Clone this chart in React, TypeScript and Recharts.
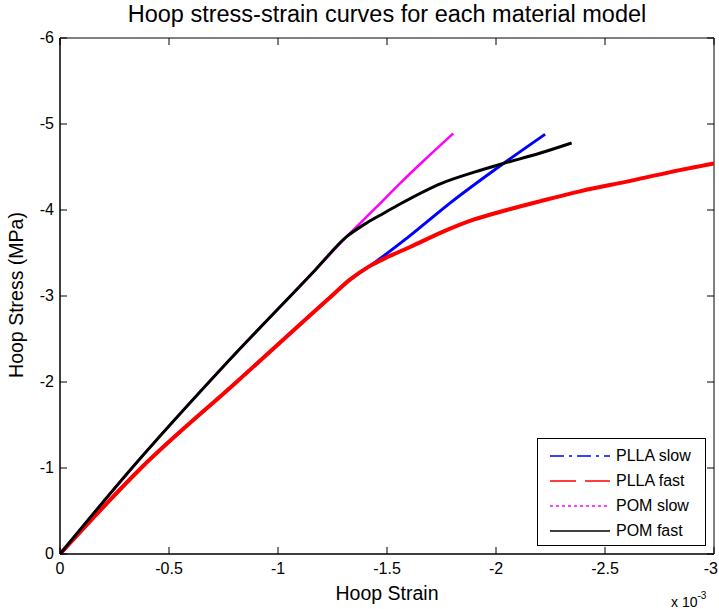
import React from "react";
import { LineChart, Line, XAxis, YAxis, ReferenceArea } from "recharts";

// strain values are in units of 1e-3, stress in MPa
const pllaSlowStrain = [0, -0.372, -0.81, -1.25, -1.33, -1.422, -1.6, -1.789, -2.034, -2.225];
const pllaSlowStress = [0, -1, -2, -3.01, -3.19, -3.35, -3.69, -4.08, -4.54, -4.88];

const pllaFastStrain = [0, -0.372, -0.81, -1.25, -1.33, -1.422, -1.5, -1.606, -1.75, -1.9, -2.05, -2.2, -2.39, -2.6, -2.8, -3.0];
const pllaFastStress = [0, -1, -2, -3.01, -3.19, -3.35, -3.45, -3.57, -3.74, -3.89, -4.0, -4.1, -4.22, -4.33, -4.44, -4.54];

const pomSlowStrain = [0, -0.33, -0.742, -1.17, -1.315, -1.45, -1.56, -1.667, -1.804];
const pomSlowStress = [0, -1, -2.16, -3.3, -3.69, -4.03, -4.31, -4.57, -4.89];

const pomFastStrain = [0, -0.33, -0.742, -1.17, -1.315, -1.407, -1.483, -1.56, -1.75, -1.9, -2.032, -2.2, -2.347];
const pomFastStress = [0, -1, -2.16, -3.3, -3.69, -3.85, -3.96, -4.07, -4.31, -4.44, -4.54, -4.66, -4.78];

const xTicks = [-3, -2.5, -2, -1.5, -1, -0.5, 0];
const yTicks = [-6, -5, -4, -3, -2, -1, 0];

const toPoints = (xs: number[], ys: number[]) => xs.map((x, i) => ({ x, y: ys[i] }));

const series = [
  { name: "PLLA slow", color: "#0000ff", width: 3, dash: "14,5,3,5", data: toPoints(pllaSlowStrain, pllaSlowStress) },
  { name: "PLLA fast", color: "#ff0000", width: 4, dash: "26,9", data: toPoints(pllaFastStrain, pllaFastStress) },
  { name: "POM slow", color: "#ff00ff", width: 2.5, dash: "3,3", data: toPoints(pomSlowStrain, pomSlowStress) },
  { name: "POM fast", color: "#000000", width: 3, dash: undefined, data: toPoints(pomFastStrain, pomFastStress) },
];

const W = 719;
const H = 609;
const margin = { top: 38, right: 5, bottom: 0, left: 0 };
const yAxisW = 60;
const xAxisH = 55;
const plotW = W - margin.left - margin.right - yAxisW;
const plotH = H - margin.top - margin.bottom - xAxisH;
const TICK = 7;

const font = "'Liberation Sans', Arial, sans-serif";

// MATLAB style: ticks point inward, mirrored on the opposite side
const XTick = (props: any) => {
  const { x, y, payload } = props;
  const last = payload.value === xTicks[0];
  return (
    <g>
      <line x1={x} x2={x} y1={y} y2={y - TICK} stroke="#000" />
      <line x1={x} x2={x} y1={y - plotH} y2={y - plotH + TICK} stroke="#000" />
      <text
        x={last ? x + 4 : x}
        y={y + 20}
        textAnchor={last ? "end" : "middle"}
        fontSize={16}
        fontFamily={font}
        fill="#000"
      >
        {payload.value}
      </text>
    </g>
  );
};

const YTick = (props: any) => {
  const { x, y, payload } = props;
  return (
    <g>
      <line x1={x} x2={x + TICK} y1={y} y2={y} stroke="#000" />
      <line x1={x + plotW} x2={x + plotW - TICK} y1={y} y2={y} stroke="#000" />
      <text x={x - 6} y={y + 5} textAnchor="end" fontSize={16} fontFamily={font} fill="#000">
        {payload.value}
      </text>
    </g>
  );
};

export default function App() {
  return (
    <div style={{ position: "absolute", left: 0, top: 0, width: W, height: H, background: "#fff", fontFamily: font }}>
      <LineChart width={W} height={H} margin={margin}>
        <XAxis
          type="number"
          dataKey="x"
          domain={[-3, 0]}
          ticks={xTicks}
          interval={0}
          reversed
          allowDataOverflow
          height={xAxisH}
          tickSize={0}
          tickMargin={0}
          tickLine={false}
          stroke="#000"
          tick={<XTick />}
        />
        <YAxis
          type="number"
          dataKey="y"
          domain={[-6, 0]}
          ticks={yTicks}
          interval={0}
          reversed
          allowDataOverflow
          width={yAxisW}
          tickSize={0}
          tickMargin={0}
          tickLine={false}
          stroke="#000"
          tick={<YTick />}
        />
        <ReferenceArea x1={-3} x2={0} y1={-6} y2={0} fill="none" stroke="#000" strokeWidth={1} />
        {series.map((s) => (
          <Line
            key={s.name}
            data={s.data}
            dataKey="y"
            name={s.name}
            type="monotone"
            stroke={s.color}
            strokeWidth={s.width}
            dot={false}
            activeDot={false}
            isAnimationActive={false}
          />
        ))}
      </LineChart>

      <div style={{ position: "absolute", left: 60, width: 654, top: 1, textAlign: "center", fontSize: 23.5 }}>
        Hoop stress-strain curves for each material model
      </div>
      <div style={{ position: "absolute", left: 60, width: 654, top: 582, textAlign: "center", fontSize: 19.5 }}>
        Hoop Strain
      </div>
      <div
        style={{
          position: "absolute",
          left: 16,
          top: 295,
          transform: "translate(-50%, -50%) rotate(-90deg)",
          whiteSpace: "nowrap",
          fontSize: 19.5,
        }}
      >
        Hoop Stress (MPa)
      </div>
      <div style={{ position: "absolute", left: 671, top: 592, fontSize: 14, whiteSpace: "nowrap" }}>
        x 10<sup style={{ fontSize: 10, position: "relative", top: -2 }}>-3</sup>
      </div>

      <div
        style={{
          position: "absolute",
          left: 537,
          top: 438,
          width: 167,
          height: 106,
          border: "1px solid #000",
          background: "#fff",
        }}
      >
        {series.map((s, i) => (
          <div key={s.name} style={{ position: "absolute", left: 0, top: 6 + i * 25, height: 22, display: "flex", alignItems: "center" }}>
            <svg width={78} height={22}>
              <line x1={12} x2={72} y1={11} y2={11} stroke={s.color} strokeWidth={1.5} strokeDasharray={s.dash} />
            </svg>
            <span style={{ fontSize: 16, whiteSpace: "nowrap" }}>{s.name}</span>
          </div>
        ))}
      </div>
    </div>
  );
}
